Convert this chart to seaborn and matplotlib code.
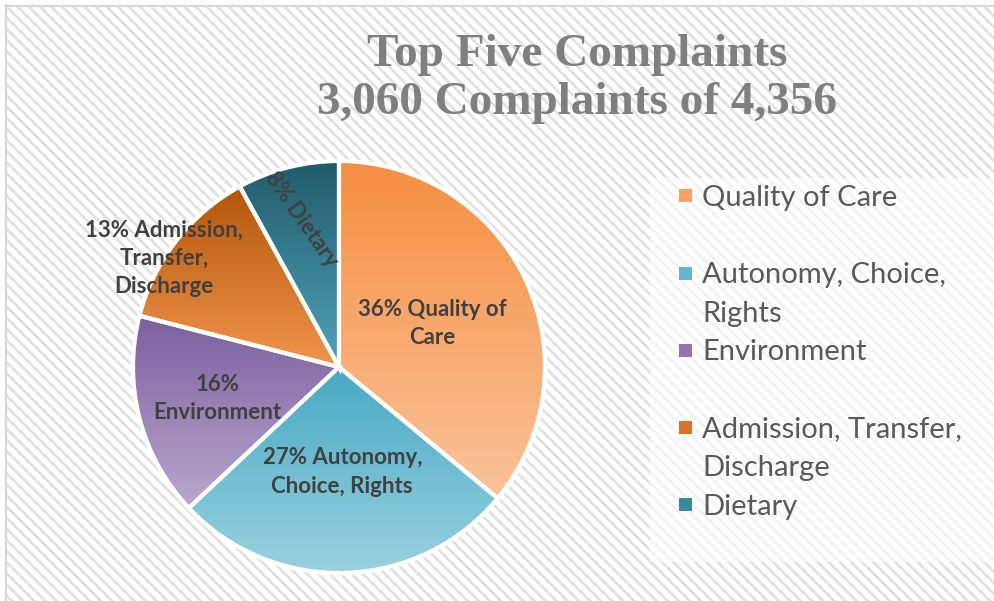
import numpy as np
import matplotlib
matplotlib.use("Agg")
import matplotlib.pyplot as plt
import seaborn as sns
from matplotlib.colors import LinearSegmentedColormap
from matplotlib.patches import Rectangle

# Daten
categories = ["Quality of Care", "Autonomy, Choice, Rights", "Environment",
              "Admission, Transfer, Discharge", "Dietary"]
percentages = [36, 27, 16, 13, 8]
slice_labels = ["36% Quality of\nCare", "27% Autonomy,\nChoice, Rights", "16%\nEnvironment",
                "13% Admission,\nTransfer,\nDischarge", "8% Dietary"]
legend_labels = ["Quality of Care", "Autonomy, Choice,\nRights", "Environment",
                 "Admission, Transfer,\nDischarge", "Dietary"]
title_lines = ["Top Five Complaints", "3,060 Complaints of 4,356"]

# Farben (oben dunkler, unten heller)
top_colors = ["#F68E41", "#47A9C4", "#7C5E9F", "#B3560C", "#215B6B"]
bottom_colors = ["#FAC39A", "#9AD1E0", "#B8A8CC", "#F2944C", "#50A3B9"]
legend_colors = ["#F8A061", "#5FB6CE", "#8F76AE", "#D5742A", "#3A8A9E"]

sns.set_theme(style="white")
plt.rcParams["hatch.linewidth"] = 2.0

W, H = 995, 601
fig = plt.figure(figsize=(W / 100, H / 100), dpi=100)
fig.patch.set_facecolor("white")

# Hintergrund mit Schraffur und Rahmen
bg = Rectangle((6 / W, 0), 1, 1 - 6 / H, transform=fig.transFigure, facecolor="white",
               edgecolor="#E2E2E2", hatch="\\\\\\", linewidth=0, zorder=-3)
fig.patches.append(bg)
fig.add_artist(plt.Line2D([5.5 / W, 5.5 / W], [0, 1 - 5 / H], transform=fig.transFigure,
                          color="#D9D9D9", lw=1.6, zorder=-2))
fig.add_artist(plt.Line2D([5 / W, 1], [1 - 5.5 / H, 1 - 5.5 / H], transform=fig.transFigure,
                          color="#D9D9D9", lw=1.6, zorder=-2))

# Legendenbox (halbtransparent weiß)
fig.patches.append(Rectangle((650 / W, 1 - 562 / H), 1, (562 - 178) / H, transform=fig.transFigure,
                             facecolor="white", alpha=0.6, linewidth=0, zorder=-1))

# Kreisdiagramm
cx, cy, r = 339, 367, 206
ax = fig.add_axes([(cx - r) / W, (H - cy - r) / H, 2 * r / W, 2 * r / H], zorder=1)
ax.patch.set_visible(False)
wedges, _ = ax.pie(percentages, startangle=90, counterclock=False, radius=1,
                   wedgeprops=dict(edgecolor="white", linewidth=3))

label_dist = [0.50, 0.51, 0.61, 1.0, 0.74]
label_shift = [0, 0, 0, 6, 0]
label_rot = [0, 0, 0, 0, -55]

for i, w in enumerate(wedges):
    cmap = LinearSegmentedColormap.from_list(f"g{i}", [top_colors[i], bottom_colors[i]])
    bb = w.get_path().get_extents()
    grad = np.linspace(0, 1, 256).reshape(-1, 1)
    im = ax.imshow(grad, cmap=cmap, extent=[bb.x0, bb.x1, bb.y0, bb.y1], origin="upper",
                   aspect="auto", zorder=1)
    im.set_clip_path(w)
    w.set_facecolor("none")
    w.set_zorder(2)
    w.set_clip_on(False)

    mid = np.deg2rad((w.theta1 + w.theta2) / 2 + label_shift[i])
    ax.text(label_dist[i] * np.cos(mid), label_dist[i] * np.sin(mid), slice_labels[i],
            ha="center", va="center", rotation=label_rot[i], rotation_mode="anchor",
            fontsize=16, fontweight="bold", color="#404040", family=["Lato", "DejaVu Sans"],
            linespacing=1.42, zorder=3)

ax.set_xlim(-1, 1)
ax.set_ylim(-1, 1)
ax.set_axis_off()

# Titel
for k, line in enumerate(title_lines):
    fig.text(577 / W, 1 - (55 + 48 * k) / H, line, ha="center", va="center",
             fontsize=34, fontweight="bold", color="#7F7F7F", family=["Liberation Serif", "DejaVu Serif"])

# Legende
row0, pitch = 196, 38.5
row = 0
for i, lab in enumerate(legend_labels):
    lines = lab.split("\n")
    y = row0 + row * pitch
    fig.patches.append(Rectangle((679 / W, 1 - (y + 6.5) / H), 13 / W, 13 / H, transform=fig.transFigure,
                                 facecolor=legend_colors[i], linewidth=0, zorder=2))
    for j, ln in enumerate(lines):
        fig.text(702 / W, 1 - (y + j * pitch) / H, ln, ha="left", va="center_baseline",
                 fontsize=21, color="#595959", family=["Lato", "DejaVu Sans"])
    row += max(2, len(lines))

fig.savefig("out.png", dpi=100)
